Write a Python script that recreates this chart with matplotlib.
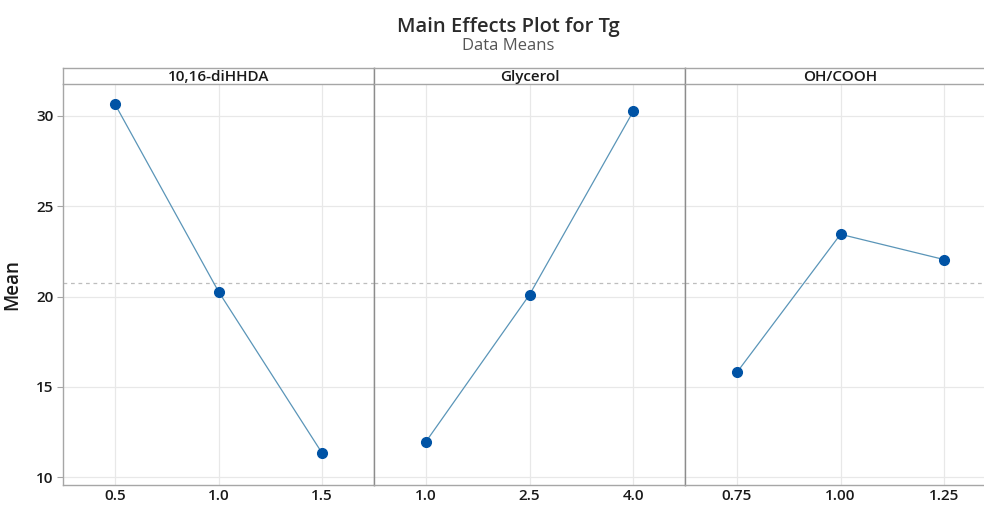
import matplotlib
matplotlib.use("Agg")
import matplotlib.pyplot as plt

factors = ["10,16-diHHDA", "Glycerol", "OH/COOH"]
levels = [["0.5", "1.0", "1.5"], ["1.0", "2.5", "4.0"], ["0.75", "1.00", "1.25"]]
means = [[30.67, 20.28, 11.33], [11.96, 20.1, 30.25], [15.8, 23.45, 22.05]]
grand_mean = 20.73
yticks = [10, 15, 20, 25, 30]

plt.rcParams['font.family'] = ['Open Sans', 'DejaVu Sans']

W, H = 984, 505
fig = plt.figure(figsize=(W / 100, H / 100), dpi=100)

left_px, panel_w = 63, 311
top_px, bot_px, head_top = 84, 485, 68
spine_c = "#a6a6a6"
grid_c = "#e8e8e8"
text_c = "#1a1a1a"

for i, f in enumerate(factors):
    x0 = (left_px + i * panel_w) / W
    ax = fig.add_axes([x0, 1 - bot_px / H, panel_w / W, (bot_px - top_px) / H])
    pos = list(range(len(levels[i])))
    ax.plot(pos, means[i], color="#5a95b8", lw=0.9, zorder=3)
    ax.plot(pos, means[i], 'o', color="#0053a5", ms=7, zorder=4)
    ax.axhline(grand_mean, color="#bdbdbd", lw=0.9, ls=(0, (3, 3)), zorder=2)
    ax.set_xlim(-0.5, 2.5)
    ax.set_ylim(9.57, 31.77)
    ax.set_xticks(pos)
    ax.set_xticklabels(levels[i], fontsize=11, fontweight='semibold', color=text_c)
    ax.set_yticks(yticks)
    ax.grid(True, color=grid_c, lw=0.9, zorder=0)
    ax.set_axisbelow(True)
    ax.tick_params(axis='x', length=0, pad=3)
    for s in ax.spines.values():
        s.set_color(spine_c)
        s.set_linewidth(1.0)
    ax.spines['top'].set_visible(False)
    if i == 0:
        ax.tick_params(axis='y', length=4, color=spine_c, labelsize=11, labelcolor=text_c, pad=3)
        for t in ax.get_yticklabels():
            t.set_fontweight('semibold')
        ax.set_ylabel("Mean", fontsize=13.5, fontweight='semibold', color=text_c, labelpad=10)
    else:
        ax.tick_params(axis='y', length=0, labelleft=False)
        ax.spines['left'].set_color("#8c8c8c")
    # header strip
    hx = fig.add_axes([x0, 1 - top_px / H, panel_w / W, (top_px - head_top) / H])
    hx.set_xticks([]); hx.set_yticks([])
    for s in hx.spines.values():
        s.set_color(spine_c)
        s.set_linewidth(1.0)
    if i > 0:
        hx.spines['left'].set_color("#8c8c8c")
    hx.text(0.5, 0.45, f, ha='center', va='center', fontsize=11, fontweight='semibold',
            color=text_c, transform=hx.transAxes)

fig.text(508 / W, 1 - 27 / H, "Main Effects Plot for Tg", ha='center', va='center',
         fontsize=14.5, fontweight='semibold', color="#2b2b2b")
fig.text(508 / W, 1 - 46 / H, "Data Means", ha='center', va='center',
         fontsize=12, color="#555555")

fig.savefig("out.png", dpi=100)
